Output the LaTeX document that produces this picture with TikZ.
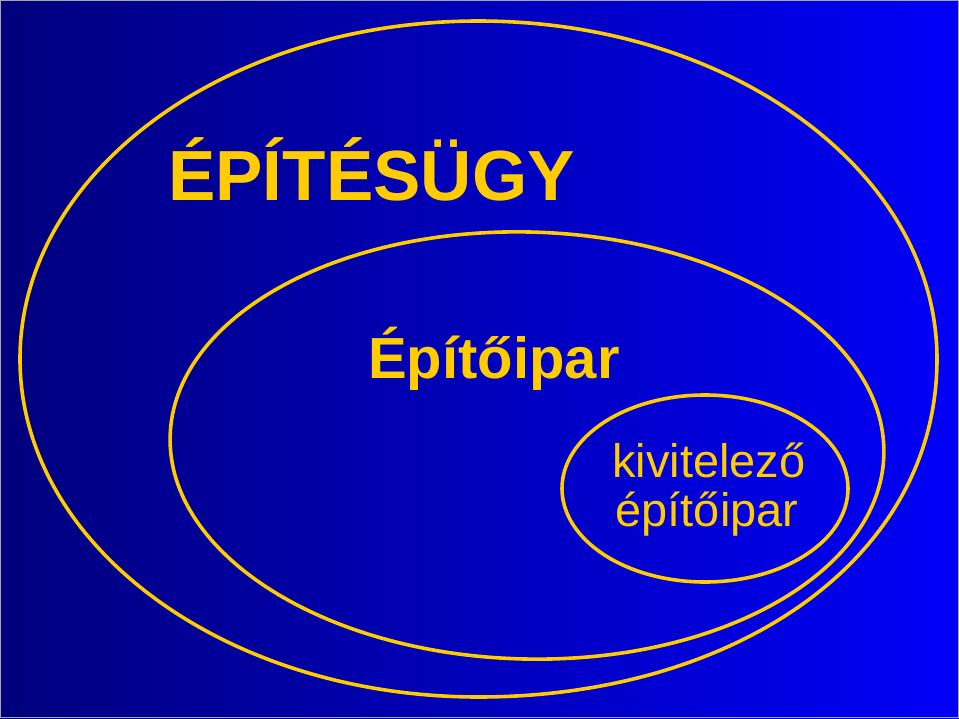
\documentclass[tikz,border=0pt]{standalone}
\usepackage{fontspec}
\setmainfont{Liberation Sans}
\definecolor{gold}{RGB}{255,204,0}
\definecolor{navyL}{RGB}{0,0,125}
\definecolor{blueR}{RGB}{0,0,248}
\tikzset{
  ring/.style={draw=gold, line width=3.6pt},
  title/.style={text=gold, inner sep=0pt, font=\bfseries},
  plain/.style={text=gold, inner sep=0pt}
}
\begin{document}
\begin{tikzpicture}[x=1pt,y=-1pt]
\useasboundingbox (0,0) rectangle (959,718);
\shade[left color=navyL, right color=blueR] (0,0) rectangle (959,718);
\draw[gray!70, line width=1pt] (0.5,0.5) rectangle (958.5,717.5);
% outer ellipse (slightly fuller at lower right)
\draw[ring] (937,359) .. controls (937,561.8) and (731.7,697) .. (478.5,697)
  .. controls (225.3,697) and (20,545.7) .. (20,359)
  .. controls (20,172.3) and (225.3,21) .. (478.5,21)
  .. controls (731.7,21) and (937,172.3) .. (937,359) -- cycle;
% middle ellipse
\draw[ring, rotate around={-1.5:(527,445.5)}] (527,445.5) ellipse [x radius=357pt, y radius=213.5pt];
% inner ellipse
\draw[ring] (705,488.5) ellipse [x radius=143pt, y radius=93.5pt];
% texts
\node[title, anchor=base west, font=\fontsize{71}{80}\selectfont\bfseries] (t1) at (168,200) {ÉPÍTÉSÜGY};
\node[title, anchor=base west, font=\fontsize{58}{64}\selectfont\bfseries] (t2) at (368,378) {Építőipar};
\node[plain, anchor=base, font=\fontsize{47}{52}\selectfont] (t3) at (709,477) {kivitelező};
\node[plain, anchor=base, font=\fontsize{47}{52}\selectfont] (t4) at (707,526) {építőipar};
\end{tikzpicture}
\end{document}
